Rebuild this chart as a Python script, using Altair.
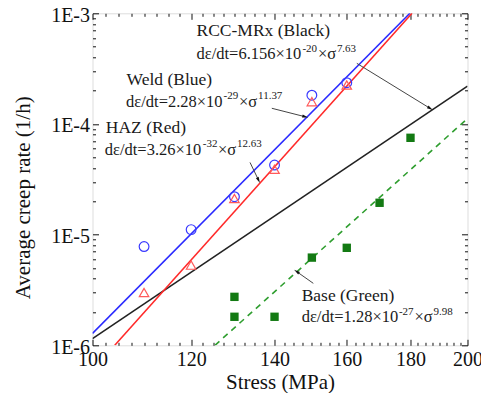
import math
import altair as alt
import pandas as pd

# ---------------- data ----------------
weld_stress = [110, 120, 130, 140, 150, 160]
weld_rate = [7.8e-6, 1.11e-5, 2.2e-5, 4.25e-5, 1.82e-4, 2.36e-4]

haz_stress = [110, 120, 130, 140, 150, 160]
haz_rate = [3.0e-6, 5.3e-6, 2.12e-5, 3.9e-5, 1.59e-4, 2.25e-4]

base_stress = [130, 130, 140, 150, 160, 170, 180]
base_rate = [2.74e-6, 1.81e-6, 1.81e-6, 6.2e-6, 7.6e-6, 1.94e-5, 7.5e-5]

# fitted power-law lines (straight in log-log), end points
black_fit_stress = [100, 200]
black_fit_rate = [1.15e-6, 2.2e-4]
blue_fit_stress = [100, 179.8]
blue_fit_rate = [1.28e-6, 1.0e-3]
red_fit_stress = [104.2, 180.5]
red_fit_rate = [1.0e-6, 1.0e-3]
green_fit_stress = [125.4, 200]
green_fit_rate = [1.0e-6, 1.12e-4]

x_major = [100, 120, 140, 160, 180, 200]
x_minor = [100 + 2.5 * i for i in range(41) if (2.5 * i) % 20 != 0]
y_major = [1e-6, 1e-5, 1e-4, 1e-3]
y_minor = [k * 10.0 ** e for e in (-6, -5, -4) for k in range(2, 10)]

# annotation text (anchor = left / baseline, in data units)
label_text = ["RCC-MRx (Black)", "Weld (Blue)", "HAZ (Red)", "Base (Green)"]
label_x = [121.2, 106.5, 102.5, 147.2]
label_y = [6.23e-4, 2.25e-4, 8.23e-5, 2.53e-6]

main_text = ["dε/dt=6.156×10", "×σ",
             "dε/dt=2.28×10", "×σ",
             "dε/dt=3.26×10", "×σ",
             "dε/dt=1.28×10", "×σ"]
main_x = [121.2, 151.7, 106.4, 131.1, 102.3, 126.1, 147.2, 181.3]
main_y = [3.86e-4, 3.86e-4, 1.415e-4, 1.415e-4, 5.24e-5, 5.24e-5, 1.63e-6, 1.63e-6]

sup_text = ["-20", "7.63", "-29", "11.37", "-32", "12.63", "-27", "9.98"]
sup_x = [147.4, 157.1, 127.4, 135.8, 122.6, 130.6, 176.2, 187.8]
sup_y = [4.5e-4, 4.5e-4, 1.67e-4, 1.67e-4, 6.23e-5, 6.23e-5, 1.88e-6, 1.88e-6]

arrow_x = [163.0, 139.3, 133.8, 150.4]
arrow_y = [3.53e-4, 1.386e-4, 4.49e-5, 3.63e-6]
arrow_x2 = [186.6, 148.1, 135.9, 145.9]
arrow_y2 = [1.386e-4, 1.163e-4, 3.12e-5, 4.62e-6]

# ---------------- layout ----------------
W, H = 375, 332
FONT = "Liberation Serif"

xs = alt.Scale(type="log", domain=[100, 200], nice=False)
ys = alt.Scale(type="log", domain=[1e-6, 1e-3], nice=False)


def px_x(s):
    return W * math.log2(s / 100.0)


def px_y(r):
    return H * (-3 - math.log10(r)) / 3.0


def tick_axis(orient, values, size):
    return alt.Axis(orient=orient, values=values, labels=False, ticks=True,
                    tickSize=size, tickColor="#111", tickWidth=1, domain=False,
                    grid=False, offset=-size, title=None)


def line_df(xv, yv):
    return pd.DataFrame({"stress": xv, "rate": yv})


main_xaxis = alt.Axis(orient="bottom", values=x_major, ticks=False, domain=False, grid=False,
                      labelFont=FONT, labelFontSize=20, labelColor="#111", labelPadding=4,
                      labelFlush=False, labelOverlap=False, format="d",
                      title="Stress (MPa)", titleFont=FONT, titleFontSize=21,
                      titleFontWeight="normal", titleColor="#111",
                      titleX=W / 2, titleY=43, titleBaseline="alphabetic", titleAlign="center")
main_yaxis = alt.Axis(orient="left", values=y_major, ticks=False, domain=False, grid=False,
                      labelFont=FONT, labelFontSize=20, labelColor="#111", labelPadding=3,
                      labelFlush=False, labelOverlap=False, labelOffset=2,
                      labelExpr="'1E' + round(log(datum.value)/LN10)",
                      title="Average creep rate (1/h)", titleFont=FONT, titleFontSize=21,
                      titleFontWeight="normal", titleColor="#111",
                      titleX=-69.5, titleY=184, titleBaseline="middle", titleAngle=270,
                      titleAlign="center")


def fit_line(xv, yv, color, xaxis, yaxis, dash=None):
    kw = dict(color=color, strokeWidth=1.6, clip=True)
    if dash:
        kw["strokeDash"] = dash
    return alt.Chart(line_df(xv, yv)).mark_line(**kw).encode(
        x=alt.X("stress:Q", scale=xs, axis=xaxis),
        y=alt.Y("rate:Q", scale=ys, axis=yaxis),
    )


black = fit_line(black_fit_stress, black_fit_rate, "#222222", main_xaxis, main_yaxis)
blue = fit_line(blue_fit_stress, blue_fit_rate, "#2a2aff",
                tick_axis("bottom", x_major, 6), tick_axis("left", y_major, 6))
red = fit_line(red_fit_stress, red_fit_rate, "#ff2a2a",
               tick_axis("bottom", x_minor, 3), tick_axis("left", y_minor, 3))
green = fit_line(green_fit_stress, green_fit_rate, "#2f9e2f",
                 tick_axis("top", x_major, 6), tick_axis("right", y_major, 6), dash=[6, 5])

weld_pts = alt.Chart(line_df(weld_stress, weld_rate)).mark_point(
    shape="circle", filled=False, color="#3a3aff", strokeWidth=1.2, size=95, opacity=1
).encode(
    x=alt.X("stress:Q", scale=xs, axis=tick_axis("top", x_minor, 3)),
    y=alt.Y("rate:Q", scale=ys, axis=tick_axis("right", y_minor, 3)),
)
haz_pts = alt.Chart(line_df(haz_stress, haz_rate)).mark_point(
    shape="triangle-up", filled=False, color="#ff5a5a", strokeWidth=1.2, size=90, opacity=1
).encode(
    x=alt.X("stress:Q", scale=xs, axis=None),
    y=alt.Y("rate:Q", scale=ys, axis=None),
)
base_pts = alt.Chart(line_df(base_stress, base_rate)).mark_point(
    shape="square", filled=True, color="#137a13", size=70, opacity=1
).encode(
    x=alt.X("stress:Q", scale=xs, axis=None),
    y=alt.Y("rate:Q", scale=ys, axis=None),
)


def text_layer(xv, yv, tv, size):
    df = pd.DataFrame({"stress": xv, "rate": yv, "t": tv})
    return alt.Chart(df).mark_text(
        align="left", baseline="alphabetic", font=FONT, fontSize=size, color="#1a1a1a"
    ).encode(
        x=alt.X("stress:Q", scale=xs, axis=None),
        y=alt.Y("rate:Q", scale=ys, axis=None),
        text="t:N",
    )


labels = text_layer(label_x, label_y, label_text, 17.5)
texts = text_layer(main_x, main_y, main_text, 16.5)
sups = text_layer(sup_x, sup_y, sup_text, 11)

angles = []
for a, b, c, d in zip(arrow_x, arrow_y, arrow_x2, arrow_y2):
    dx = px_x(c) - px_x(a)
    dy = px_y(d) - px_y(b)
    angles.append(math.degrees(math.atan2(dx, -dy)) % 360)

arrow_df = pd.DataFrame({"x": arrow_x, "y": arrow_y, "x2": arrow_x2, "y2": arrow_y2,
                         "ang": angles})
arrows = alt.Chart(arrow_df).mark_rule(color="#444", strokeWidth=1).encode(
    x=alt.X("x:Q", scale=xs, axis=None),
    y=alt.Y("y:Q", scale=ys, axis=None),
    x2="x2:Q",
    y2="y2:Q",
)
heads = alt.Chart(arrow_df).mark_point(
    shape="M0,-1L0.45,0.8L-0.45,0.8Z", filled=True, color="#111", size=45, opacity=1
).encode(
    x=alt.X("x2:Q", scale=xs, axis=None),
    y=alt.Y("y2:Q", scale=ys, axis=None),
    angle=alt.Angle("ang:Q", scale=None),
)

chart = alt.layer(
    black, blue, red, green, weld_pts, haz_pts, base_pts, arrows, heads, labels, texts, sups
).resolve_axis(x="independent", y="independent").properties(
    width=W, height=H,
    autosize=alt.AutoSizeParams(type="none"),
    padding={"left": 84.5, "top": 5.3, "right": 13.5, "bottom": 48},
).configure_view(stroke="#222", strokeWidth=1.5).configure(background="white")

chart.save("out.html", embed_options={"renderer": "svg", "actions": False})
